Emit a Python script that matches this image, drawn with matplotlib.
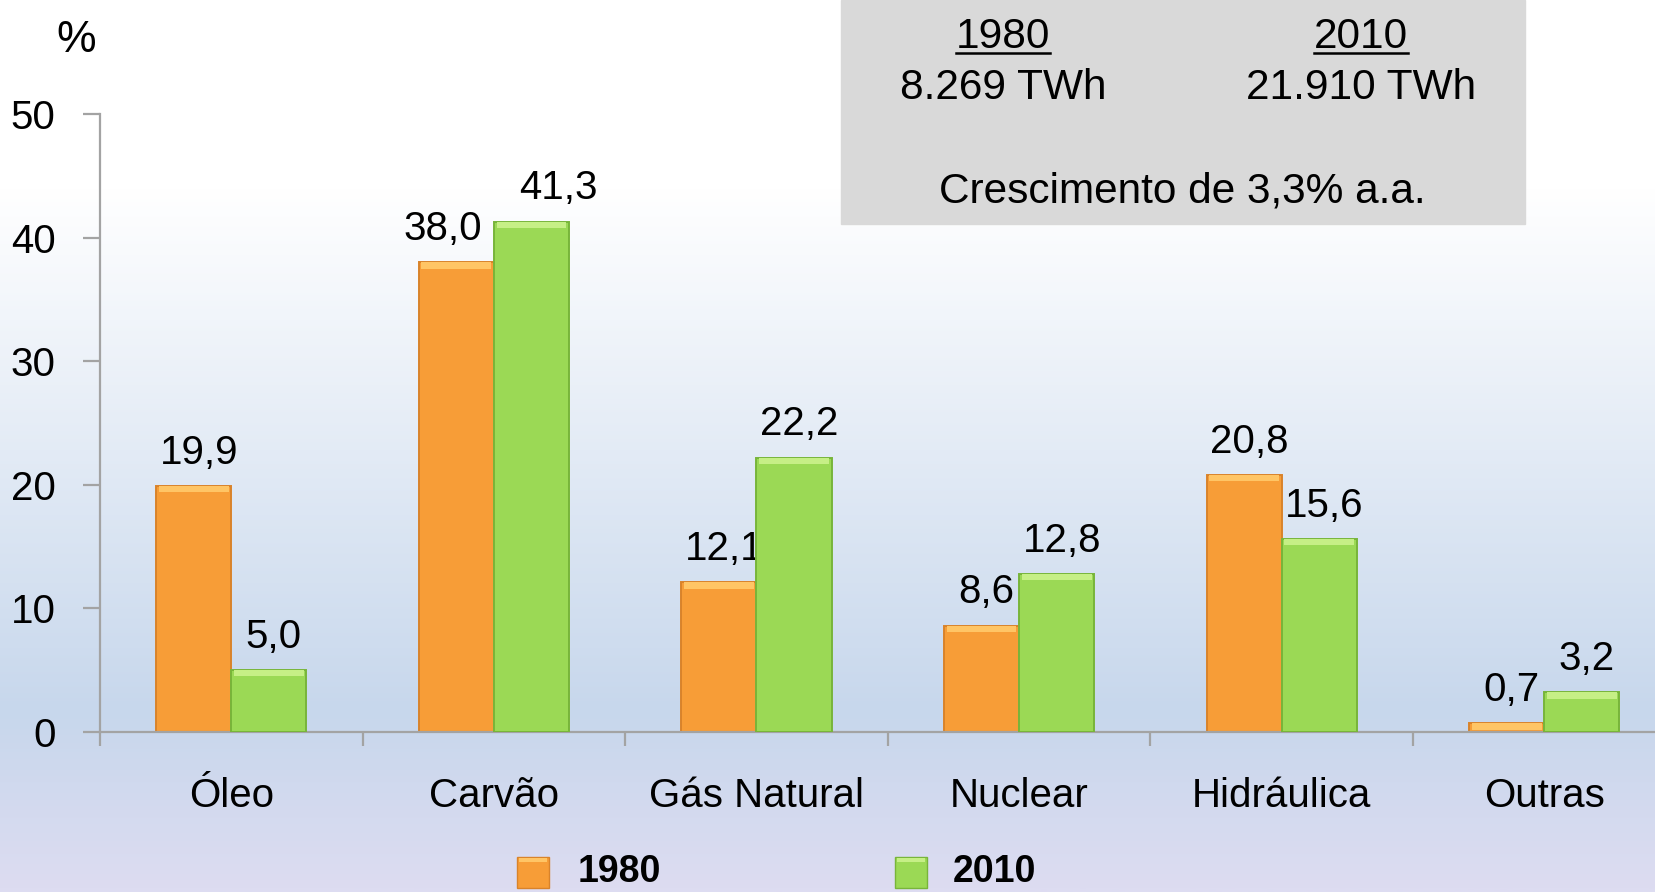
import numpy as np
import matplotlib
matplotlib.use("Agg")
import matplotlib.pyplot as plt
from matplotlib import font_manager
from matplotlib.colors import LinearSegmentedColormap
from matplotlib.patches import Rectangle
from matplotlib.lines import Line2D

# data
categories = ["Óleo", "Carvão", "Gás Natural", "Nuclear", "Hidráulica", "Outras"]
share_1980 = [19.9, 38.0, 12.1, 8.6, 20.8, 0.7]
share_2010 = [5.0, 41.3, 22.2, 12.8, 15.6, 3.2]
series_names = ["1980", "2010"]
yticks = [0, 10, 20, 30, 40, 50]
box_years = ["1980", "2010"]
box_totals = ["8.269 TWh", "21.910 TWh"]
box_note = "Crescimento de 3,3% a.a."

W, H = 1656, 892


def fx(px):
    return px / W


def fy(py):
    return 1 - py / H


# pick a narrow face if it is installed, like the original condensed look
names = {f.name for f in font_manager.fontManager.ttflist}
if "Liberation Sans Narrow" in names:
    NARROW, big, leg = "Liberation Sans Narrow", 33, 31
else:
    NARROW, big, leg = "Liberation Sans", 29, 27
REG = "Liberation Sans"

colors = {
    "1980": ("#f79d37", "#ffc565", "#d9832a"),
    "2010": ("#9bd955", "#c6ef86", "#78b53a"),
}

fig = plt.figure(figsize=(W / 100, H / 100), dpi=100)

# background gradient: white at top, light blue / lavender at the bottom
bg = fig.add_axes([0, 0, 1, 1], zorder=-10)
cmap = LinearSegmentedColormap.from_list(
    "bg", [(0, "#ffffff"), (0.21, "#ffffff"), (0.80, "#c7d7ec"), (1, "#dddcf1")])
bg.imshow(np.linspace(0, 1, 300).reshape(-1, 1), aspect="auto", cmap=cmap)
bg.axis("off")

ax = fig.add_axes([fx(100), fy(732), 1 - fx(100), (732 - 114) / H])
ax.set_facecolor("none")

x = np.arange(len(categories))
w = 0.286
bevel = 0.5

# label nudges in pixels (Carvão labels are pushed apart in the original)
nudge = {("1980", 1): -19, ("2010", 1): 22}

for k, (name, vals) in enumerate(zip(series_names, [share_1980, share_2010])):
    base, light, dark = colors[name]
    vals = np.array(vals)
    xs = x + (k - 0.5) * w
    z = 2 + 2 * k
    ax.bar(xs, vals, w, color=base, edgecolor=dark, linewidth=1.4, zorder=z)
    cap = np.minimum(vals, bevel)
    ax.bar(xs, cap, w * 0.93, bottom=vals - cap, color=light, linewidth=0, zorder=z + 0.1)
    for i, (xi, v) in enumerate(zip(xs, vals)):
        dx = 5 + nudge.get((name, i), 0)
        ax.annotate(f"{v:.1f}".replace(".", ","), (xi, v),
                    xytext=(dx * 0.72, 16), textcoords="offset points",
                    ha="center", va="baseline", fontsize=big, family=NARROW,
                    zorder=z + 0.5)

ax.set_yticks(yticks)
ax.set_yticklabels([str(t) for t in yticks], fontsize=big, family=NARROW)
ax.tick_params(axis="y", length=12, width=1.6, color="#a3a3a3", pad=20)

ax.set_xticks(np.arange(-0.5, len(categories), 1))
ax.set_xticklabels([])
ax.tick_params(axis="x", which="major", length=10, width=1.6, color="#a3a3a3")
ax.set_xticks(x, minor=True)
ax.set_xticklabels(categories, minor=True, fontsize=big, family=NARROW)
ax.tick_params(axis="x", which="minor", length=0, pad=54)
for lab in ax.get_xticklabels(minor=True):
    lab.set_va("baseline")

# limits after the ticks, so the last boundary tick does not widen the view
ax.set_xlim(-0.5, -0.5 + (W - 100) / 262.6)
ax.set_ylim(0, 50)

for s in ["top", "right"]:
    ax.spines[s].set_visible(False)
for s in ["left", "bottom"]:
    ax.spines[s].set_color("#a3a3a3")
    ax.spines[s].set_linewidth(1.6)

fig.text(fx(76), fy(52), "%", ha="center", va="baseline", fontsize=big + 3, family=NARROW)

# grey info box at the top right
fig.add_artist(Rectangle((fx(841), fy(224)), (1525 - 841) / W, 224 / H,
                         transform=fig.transFigure, color="#d9d9d9", zorder=-5))
fig.canvas.draw()
renderer = fig.canvas.get_renderer()
for cx, yr, tot in zip([1003, 1361], box_years, box_totals):
    t = fig.text(fx(cx), fy(48), yr, ha="center", va="baseline", fontsize=30.5, family=REG)
    bb = t.get_window_extent(renderer)
    fig.add_artist(Line2D([bb.x0 / W, bb.x1 / W], [fy(53), fy(53)],
                          transform=fig.transFigure, color="black", linewidth=1.8))
    fig.text(fx(cx), fy(99), tot, ha="center", va="baseline", fontsize=30.5, family=REG)
fig.text(fx(1182), fy(203), box_note, ha="center", va="baseline", fontsize=30.5, family=REG)

# legend squares and bold labels along the bottom edge
for name, sx, tx in zip(series_names, [517, 895], [578, 953]):
    base, light, dark = colors[name]
    fig.add_artist(Rectangle((fx(sx), fy(888)), 32 / W, 31 / H, transform=fig.transFigure,
                             facecolor=base, edgecolor=dark, linewidth=1))
    fig.add_artist(Rectangle((fx(sx + 2), fy(862)), 28 / W, 4 / H, transform=fig.transFigure,
                             facecolor=light, linewidth=0))
    fig.text(fx(tx), fy(890), name, ha="left", va="bottom", fontsize=leg,
             family=NARROW, fontweight="bold")

fig.savefig("out.png", dpi=100)
